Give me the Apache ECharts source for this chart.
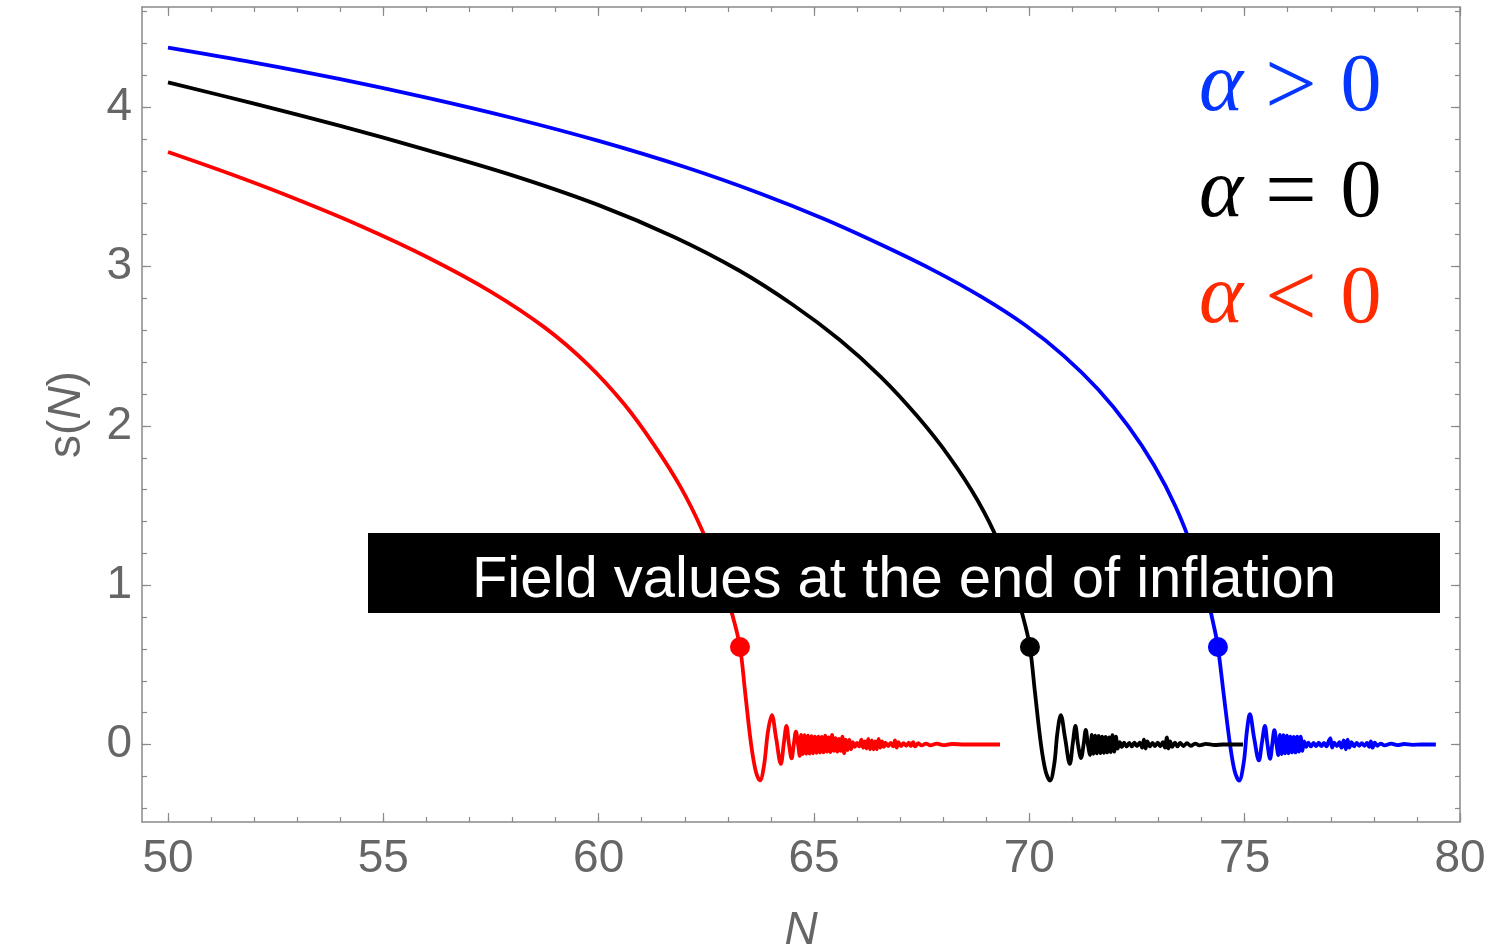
<!DOCTYPE html>
<html>
<head>
<meta charset="utf-8">
<title>s(N)</title>
<script src="https://cdn.jsdelivr.net/npm/echarts@6/dist/echarts.min.js"></script>
<style>
  html, body { margin: 0; padding: 0; background: #fff; overflow: hidden; }
  #chart { width: 1501px; height: 950px; }
</style>
</head>
<body>
<div id="chart"></div>
<script>
// Field trajectories s(N) for the three signs of alpha: [N, s]
const sPos = [
  [50, 4.375], [52, 4.281], [54, 4.177], [56, 4.061], [58, 3.933], [60, 3.789], [62, 3.625],
  [63.75, 3.459], [65.25, 3.297], [66.6, 3.132], [67.8, 2.973], [68.9, 2.808], [69.9, 2.633],
  [70.8, 2.44], [71.6, 2.228], [72.3, 1.997], [72.9, 1.751], [73.4, 1.491], [73.8, 1.219],
  [74.1, 0.955], [74.3, 0.725], [74.379, 0.612],
  [74.52, 0.3], [74.66, 0], [74.77, -0.17], [74.87, -0.227], [74.98, -0.11], [75.05, 0.08],
  [75.12, 0.19], [75.22, 0.04], [75.33, -0.1], [75.40, 0.01], [75.47, 0.116], [75.53, 0],
  [75.59, -0.09], [75.64, 0], [75.69, 0.09], [75.74, 0], [75.78, -0.066],
  [75.82, 0.06], [75.86, -0.06], [75.90, 0.058], [75.94, -0.056], [75.98, 0.055], [76.02, -0.055],
  [76.06, 0.05], [76.10, -0.05], [76.14, 0.048], [76.18, -0.05], [76.22, 0.05], [76.26, -0.045],
  [76.30, 0.05], [76.34, -0.04], [76.38, 0.02], [76.43, -0.015], [76.48, 0.012], [76.54, -0.012],
  [76.60, 0.01], [76.66, -0.01], [76.72, 0.012], [76.78, -0.01], [76.84, 0.01], [76.90, -0.012],
  [76.95, 0.02], [76.99, 0.04], [77.03, -0.02], [77.08, 0.012], [77.14, -0.01], [77.20, 0.015],
  [77.25, -0.02], [77.30, 0.025], [77.35, -0.03], [77.39, 0.03], [77.43, -0.02], [77.48, 0.015],
  [77.54, -0.012], [77.60, 0.01], [77.66, -0.008], [77.72, 0.008], [77.78, -0.008], [77.84, 0.01],
  [77.89, -0.015], [77.93, 0.02], [77.97, -0.02], [78.02, 0.012], [78.08, -0.008], [78.16, 0.006],
  [78.25, -0.006], [78.4, 0.005], [78.55, -0.004], [78.7, 0.003], [78.9, -0.002], [79.1, 0], [79.44, 0]
];

const sZero = [
  [50, 4.156], [52, 4.023], [54, 3.883], [56, 3.733], [58, 3.573], [60, 3.386], [61.75, 3.186],
  [63.25, 2.977], [64.5, 2.762], [65.6, 2.539], [66.55, 2.308], [67.4, 2.06], [68.15, 1.803],
  [68.8, 1.532], [69.3, 1.26], [69.7, 0.949], [69.9, 0.753], [70.014, 0.612],
  [70.13, 0.33], [70.27, 0], [70.38, -0.17], [70.48, -0.227], [70.58, -0.12], [70.65, 0.07],
  [70.73, 0.185], [70.83, 0.04], [70.94, -0.122], [71.01, 0.01], [71.07, 0.116], [71.13, 0],
  [71.20, -0.085], [71.26, 0], [71.31, 0.091], [71.36, 0], [71.41, -0.066],
  [71.45, 0.06], [71.49, -0.058], [71.53, 0.056], [71.57, -0.056], [71.61, 0.054], [71.65, -0.054],
  [71.69, 0.05], [71.73, -0.052], [71.77, 0.048], [71.81, -0.05], [71.85, 0.045], [71.89, -0.048],
  [71.93, 0.058], [71.97, -0.045], [72.01, 0.05], [72.05, -0.025], [72.10, 0.015], [72.15, -0.015],
  [72.20, 0.012], [72.26, -0.012], [72.32, 0.01], [72.38, -0.012], [72.44, 0.012], [72.50, -0.01],
  [72.56, 0.012], [72.62, -0.02], [72.66, 0.03], [72.70, -0.025], [72.74, 0.02], [72.80, -0.012],
  [72.86, 0.01], [72.92, -0.01], [72.98, 0.012], [73.04, -0.012], [73.10, 0.015], [73.15, -0.02],
  [73.19, 0.045], [73.23, -0.025], [73.27, 0.02], [73.32, -0.015], [73.38, 0.012], [73.44, -0.012],
  [73.50, 0.01], [73.58, -0.01], [73.66, 0.008], [73.75, -0.008], [73.85, 0.006], [73.95, -0.005],
  [74.1, 0.004], [74.3, -0.003], [74.5, 0], [74.96, 0]
];

const sNeg = [
  [50, 3.719], [51.5, 3.576], [53, 3.421], [54.5, 3.252], [56, 3.062], [57.5, 2.842],
  [58.75, 2.617], [59.75, 2.385], [60.6, 2.134], [61.3, 1.875], [61.9, 1.617], [62.4, 1.347],
  [62.8, 1.075], [63.1, 0.817], [63.281, 0.612],
  [63.40, 0.33], [63.54, 0], [63.65, -0.17], [63.745, -0.225], [63.84, -0.13], [63.93, 0.08],
  [64.02, 0.185], [64.12, 0.04], [64.23, -0.122], [64.30, 0.01], [64.36, 0.116], [64.42, 0],
  [64.48, -0.087], [64.53, 0], [64.58, 0.08], [64.63, 0], [64.67, -0.072],
  [64.70, 0.06], [64.74, -0.06], [64.78, 0.058], [64.82, -0.058], [64.86, 0.055], [64.90, -0.057],
  [64.94, 0.052], [64.98, -0.055], [65.02, 0.05], [65.06, -0.052], [65.10, 0.05], [65.14, -0.05],
  [65.18, 0.048], [65.22, -0.05], [65.26, 0.055], [65.30, -0.045], [65.34, 0.045], [65.38, -0.048],
  [65.42, 0.06], [65.46, -0.04], [65.50, 0.04], [65.54, -0.045], [65.58, 0.035], [65.62, -0.04],
  [65.66, 0.05], [65.70, -0.055], [65.74, 0.03], [65.78, -0.035], [65.82, 0.03], [65.86, -0.03],
  [65.90, 0.015], [65.95, -0.015], [66.00, 0.01], [66.05, -0.012], [66.10, 0.03], [66.14, -0.02],
  [66.18, 0.02], [66.22, -0.025], [66.26, 0.035], [66.30, -0.03], [66.34, 0.025], [66.38, -0.03],
  [66.42, 0.02], [66.46, -0.03], [66.50, 0.035], [66.54, -0.02], [66.58, 0.02], [66.62, -0.015],
  [66.66, 0.012], [66.72, -0.01], [66.78, 0.01], [66.84, -0.012], [66.88, 0.025], [66.92, -0.02],
  [66.96, 0.015], [67.02, -0.01], [67.08, 0.008], [67.14, -0.008], [67.20, 0.012], [67.25, -0.01],
  [67.30, 0.015], [67.35, -0.012], [67.42, 0.008], [67.50, -0.006], [67.60, 0.006], [67.70, -0.005],
  [67.85, 0.005], [68.0, -0.004], [68.2, 0.003], [68.5, 0], [69.32, 0]
];

// End-of-inflation markers
const endPos = [[74.379, 0.612]];
const endZero = [[70.014, 0.612]];
const endNeg = [[63.281, 0.612]];

// Ticks
const xMajor = [50, 55, 60, 65, 70, 75, 80];
const xMinor = [50, 51, 52, 53, 54, 55, 56, 57, 58, 59, 60, 61, 62, 63, 64, 65, 66, 67, 68, 69, 70,
                71, 72, 73, 74, 75, 76, 77, 78, 79, 80];
const yMajor = [0, 1, 2, 3, 4];
const yMinor = [-0.4, -0.2, 0, 0.2, 0.4, 0.6, 0.8, 1, 1.2, 1.4, 1.6, 1.8, 2, 2.2, 2.4, 2.6, 2.8,
                3, 3.2, 3.4, 3.6, 3.8, 4, 4.2, 4.4, 4.6];

const legendOps = ['>', '=', '<'];
const legendColors = ['#0536ff', '#000000', '#ff2a00'];
const boxText = 'Field values at the end of inflation';

const X_MIN = 49.396, X_MAX = 80;
const Y_MIN = -0.4865, Y_MAX = 4.6296;
const FRAME = '#8a8a8a';
const LABEL = '#666666';
const SANS = '"Liberation Sans", Arial, Helvetica, sans-serif';
const SERIF = '"Liberation Serif", "Times New Roman", serif';

function xAxisDef(pos, ticks, len, withLabels, withLine) {
  return {
    type: 'value', position: pos, min: X_MIN, max: X_MAX,
    axisLine: { show: withLine, onZero: false, lineStyle: { color: FRAME, width: 1.5 } },
    axisTick: { show: true, inside: true, length: len, customValues: ticks,
                lineStyle: { color: FRAME, width: 1.2 } },
    axisLabel: withLabels ? { show: true, customValues: xMajor, color: LABEL, fontSize: 46,
                fontFamily: SANS, margin: 14, showMinLabel: true, showMaxLabel: true }
                         : { show: false },
    splitLine: { show: false }
  };
}
function yAxisDef(pos, ticks, len, withLabels, withLine) {
  return {
    type: 'value', position: pos, min: Y_MIN, max: Y_MAX,
    axisLine: { show: withLine, onZero: false, lineStyle: { color: FRAME, width: 1.5 } },
    axisTick: { show: true, inside: true, length: len, customValues: ticks,
                lineStyle: { color: FRAME, width: 1.2 } },
    axisLabel: withLabels ? { show: true, customValues: yMajor, color: LABEL, fontSize: 46,
                fontFamily: SANS, margin: 10 } : { show: false },
    splitLine: { show: false }
  };
}

const xAxes = [
  xAxisDef('bottom', xMajor, 9, true, true),
  xAxisDef('bottom', xMinor, 5, false, false),
  xAxisDef('top', xMajor, 9, false, true),
  xAxisDef('top', xMinor, 5, false, false)
];
xAxes[0].name = 'N';
xAxes[0].nameLocation = 'middle';
xAxes[0].nameGap = 86;
xAxes[0].nameTextStyle = { color: LABEL, fontSize: 46, fontFamily: SANS, fontStyle: 'italic' };

const yAxes = [
  yAxisDef('left', yMajor, 9, true, true),
  yAxisDef('left', yMinor, 5, false, false),
  yAxisDef('right', yMajor, 9, false, true),
  yAxisDef('right', yMinor, 5, false, false)
];
yAxes[0].name = '{s|s(}{n|N}{s|)}';
yAxes[0].nameLocation = 'middle';
yAxes[0].nameGap = 52;
yAxes[0].nameTextStyle = {
  color: LABEL, fontSize: 46, fontFamily: SANS,
  rich: {
    s: { color: LABEL, fontSize: 46, fontFamily: SANS },
    n: { color: LABEL, fontSize: 46, fontFamily: SANS, fontStyle: 'italic' }
  }
};

function lineSeries(data, color) {
  return {
    type: 'line', data: data, xAxisIndex: 0, yAxisIndex: 0,
    showSymbol: false, symbol: 'none', smooth: 0.35,
    lineStyle: { color: color, width: 3.8 }, z: 2, animation: false
  };
}
function dotSeries(data, color) {
  return {
    type: 'scatter', data: data, xAxisIndex: 0, yAxisIndex: 0,
    symbol: 'circle', symbolSize: 20, itemStyle: { color: color, opacity: 1 },
    z: 4, animation: false
  };
}

// Top-right key: alpha, relation sign, zero, each placed in its own column
const keyText = [];
legendOps.forEach(function (op, i) {
  const y = 88 + i * 106;
  const c = legendColors[i];
  keyText.push(
    { type: 'text', z: 101, x: 1221, y: y,
      style: { text: '\u03b1', fill: c, fontSize: 84, fontFamily: SERIF, fontStyle: 'italic',
               align: 'center', verticalAlign: 'middle' } },
    { type: 'text', z: 101, x: 1291, y: y + 2,
      style: { text: op, fill: c, fontSize: 92, fontFamily: SERIF,
               align: 'center', verticalAlign: 'middle' } },
    { type: 'text', z: 101, x: 1361, y: y,
      style: { text: '0', fill: c, fontSize: 82, fontFamily: SERIF,
               align: 'center', verticalAlign: 'middle' } }
  );
});

const chart = echarts.init(document.getElementById('chart'), null, { renderer: 'canvas' });
chart.setOption({
  backgroundColor: '#ffffff',
  animation: false,
  grid: { left: 142, right: 41, top: 7, bottom: 128, containLabel: false, outerBoundsMode: 'none' },
  xAxis: xAxes,
  yAxis: yAxes,
  series: [
    lineSeries(sPos, '#0000ff'),
    lineSeries(sZero, '#000000'),
    lineSeries(sNeg, '#ff0000'),
    dotSeries(endPos, '#0000ff'),
    dotSeries(endZero, '#000000'),
    dotSeries(endNeg, '#ff0000')
  ],
  graphic: [
    {
      type: 'rect', z: 100,
      shape: { x: 368, y: 533, width: 1072, height: 80 },
      style: { fill: '#000000' }
    },
    {
      type: 'text', z: 101, x: 904, y: 581,
      style: { text: boxText, fill: '#ffffff', fontSize: 58, fontFamily: SANS,
               align: 'center', verticalAlign: 'middle' }
    }
  ].concat(keyText)
});
</script>
</body>
</html>
